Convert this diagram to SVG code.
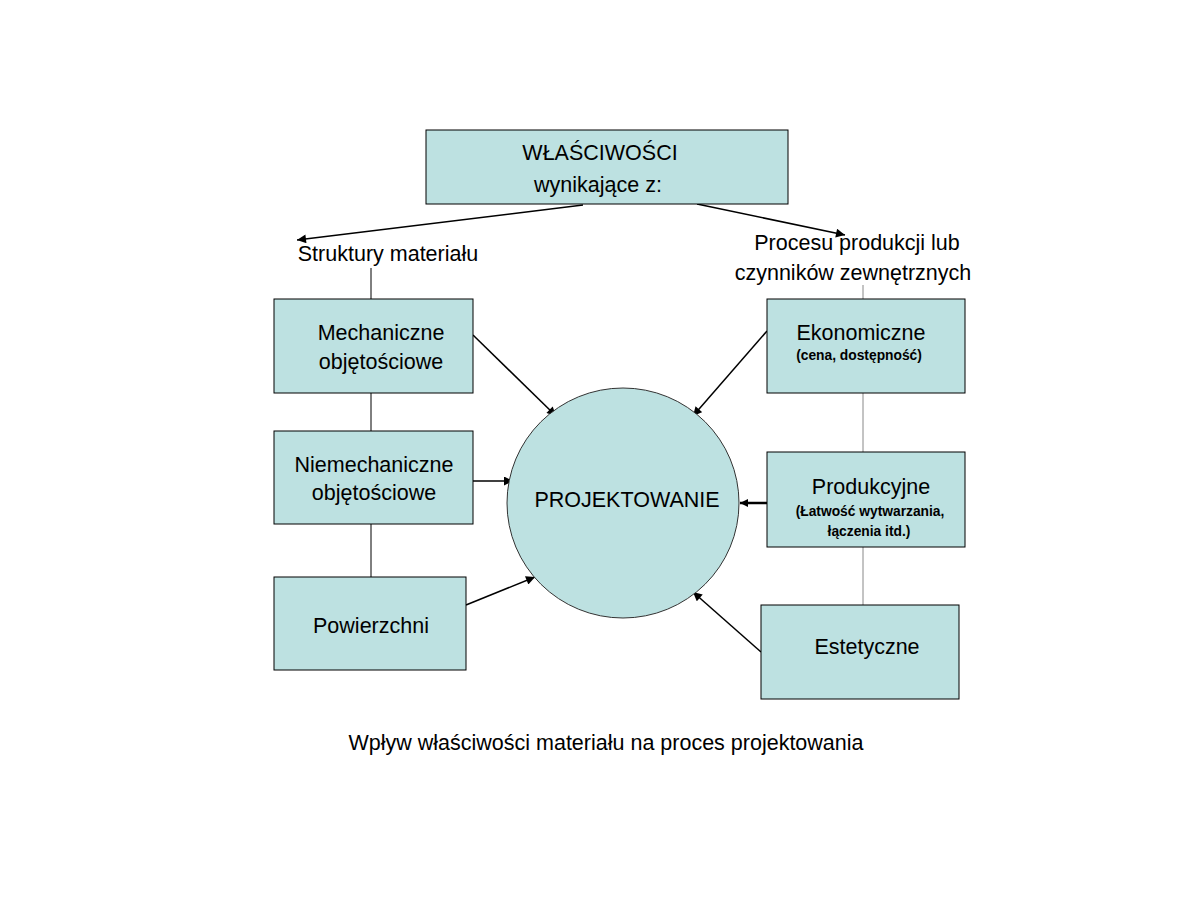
<svg xmlns="http://www.w3.org/2000/svg" width="1188" height="918" viewBox="0 0 1188 918">
<style>
.box{fill:#BDE1E1;stroke:#000;stroke-width:1}
.t{font-family:"Liberation Sans",Arial,sans-serif;font-size:21.5px;fill:#000;text-anchor:middle}
.s{font-family:"Liberation Sans",Arial,sans-serif;font-size:13.8px;font-weight:bold;fill:#000;text-anchor:middle}
.arr{stroke:#000;stroke-width:1.5;fill:none;marker-end:url(#ah)}
.vl{stroke:#000;stroke-width:1;fill:none}
.vg{stroke:#888;stroke-width:1;fill:none}
</style>
<defs>
<marker id="ah" viewBox="0 0 10 10" refX="10" refY="5" markerWidth="10" markerHeight="9" markerUnits="userSpaceOnUse" orient="auto">
<path d="M0,0 L10,5 L0,10 z" fill="#000"/>
</marker>
<marker id="ah2" viewBox="0 0 10 10" refX="10" refY="5" markerWidth="8" markerHeight="8" markerUnits="userSpaceOnUse" orient="auto">
<path d="M0,0 L10,5 L0,10 z" fill="#000"/>
</marker>
</defs>
<rect width="1188" height="918" fill="#fff"/>
<g id="connectors">
<line class="arr" x1="583" y1="205" x2="297" y2="240"/>
<line class="arr" x1="697" y1="204" x2="845" y2="235"/>
<line class="vl" x1="371" y1="268" x2="371" y2="299"/>
<line class="vl" x1="371" y1="393" x2="371" y2="431"/>
<line class="vl" x1="371" y1="524" x2="371" y2="577"/>
<line class="vg" x1="863" y1="285" x2="863" y2="299"/>
<line class="vg" x1="863" y1="393" x2="863" y2="452"/>
<line class="vg" x1="863" y1="547" x2="863" y2="605"/>
<line class="arr" x1="473" y1="335" x2="556" y2="416"/>
<line class="arr" x1="767" y1="331" x2="693" y2="416"/>
<line class="arr" x1="473" y1="481" x2="513" y2="481"/>
<line class="arr" x1="767" y1="503" x2="740" y2="503" style="stroke-width:2.5;marker-end:url(#ah2)"/>
<line class="arr" x1="466" y1="605" x2="535" y2="577"/>
<line class="arr" x1="761" y1="652" x2="693" y2="592"/>
</g>
<g id="top">
<rect class="box" x="426" y="130" width="362" height="74"/>
<text class="t" x="600" y="160">WŁAŚCIWOŚCI</text>
<text class="t" x="598" y="192">wynikające z:</text>
</g>
<g id="label-struktury"><text class="t" x="388" y="261">Struktury materiału</text></g>
<g id="label-procesu">
<text class="t" x="857" y="250">Procesu produkcji lub</text>
<text class="t" x="853" y="280">czynników zewnętrznych</text>
</g>
<g id="mechaniczne">
<rect class="box" x="274" y="299" width="199" height="94"/>
<text class="t" x="381" y="340">Mechaniczne</text>
<text class="t" x="381" y="369">objętościowe</text>
</g>
<g id="niemechaniczne">
<rect class="box" x="274" y="431" width="199" height="93"/>
<text class="t" x="374" y="472">Niemechaniczne</text>
<text class="t" x="374" y="500">objętościowe</text>
</g>
<g id="powierzchni">
<rect class="box" x="274" y="577" width="192" height="93"/>
<text class="t" x="371" y="633">Powierzchni</text>
</g>
<g id="projektowanie">
<ellipse cx="623" cy="503" rx="116" ry="115" fill="#BDE1E1" stroke="#333" stroke-width="1"/>
<text class="t" x="627" y="507">PROJEKTOWANIE</text>
</g>
<g id="ekonomiczne">
<rect class="box" x="767" y="299" width="198" height="94"/>
<text class="t" x="861" y="340">Ekonomiczne</text>
<text class="s" x="859" y="360">(cena, dostępność)</text>
</g>
<g id="produkcyjne">
<rect class="box" x="767" y="452" width="198" height="95"/>
<text class="t" x="871" y="494">Produkcyjne</text>
<text class="s" x="870" y="516">(Łatwość wytwarzania,</text>
<text class="s" x="869" y="536">łączenia itd.)</text>
</g>
<g id="estetyczne">
<rect class="box" x="761" y="605" width="198" height="94"/>
<text class="t" x="867" y="654">Estetyczne</text>
</g>
<g id="caption"><text class="t" x="606" y="750">Wpływ właściwości materiału na proces projektowania</text></g>
</svg>
